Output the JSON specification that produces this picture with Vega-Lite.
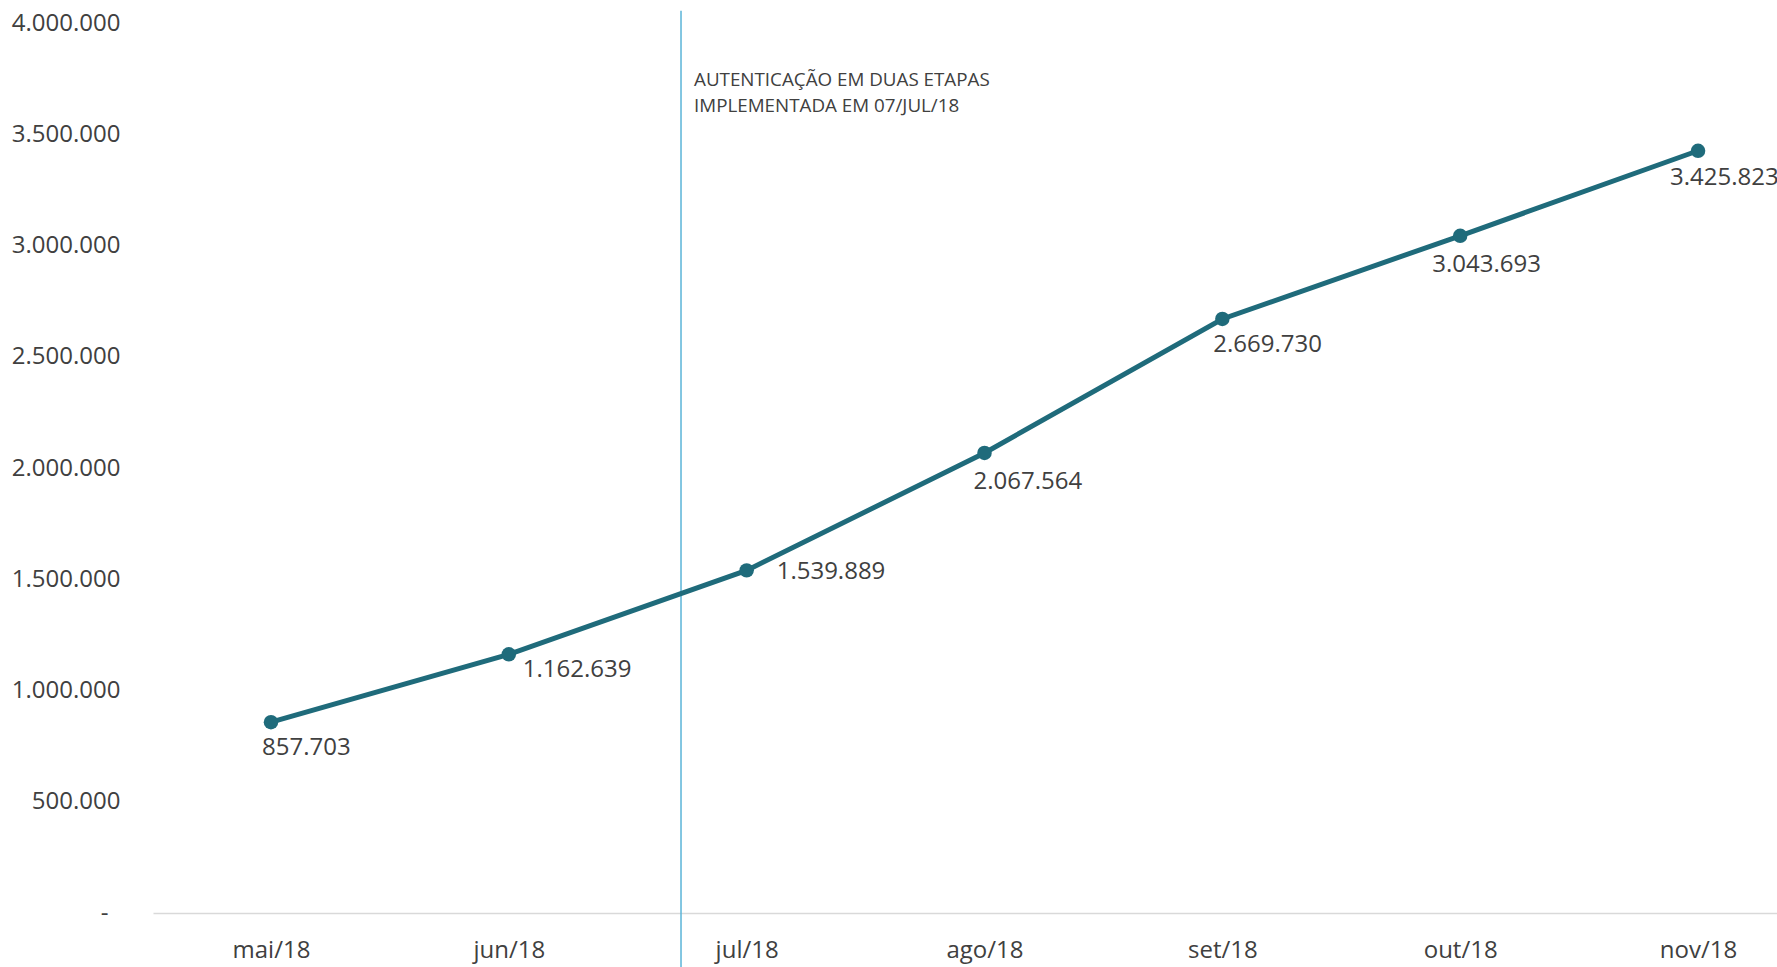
{
  "$schema": "https://vega.github.io/schema/vega-lite/v6.json",
  "autosize": "none",
  "width": 1624,
  "height": 890,
  "padding": {"left": 153, "top": 23, "right": 0, "bottom": 54},
  "background": "white",
  "config": {
    "view": {"stroke": null},
    "font": "Open Sans",
    "locale": {"number": {"decimal": ",", "thousands": ".", "grouping": [3], "currency": ["R$", ""]}}
  },
  "datasets": {
    "serie": [
      {"i": 0, "mes": "mai/18", "valor": 857703},
      {"i": 1, "mes": "jun/18", "valor": 1162639},
      {"i": 2, "mes": "jul/18", "valor": 1539889},
      {"i": 3, "mes": "ago/18", "valor": 2067564},
      {"i": 4, "mes": "set/18", "valor": 2669730},
      {"i": 5, "mes": "out/18", "valor": 3043693},
      {"i": 6, "mes": "nov/18", "valor": 3425823}
    ],
    "marco": [
      {"pos": 1.724, "topo": 4055000, "base": -250000, "ytexto": 3744000, "texto": ["AUTENTICAÇÃO EM DUAS ETAPAS", "IMPLEMENTADA EM 07/JUL/18"]}
    ]
  },
  "layer": [
    {
      "data": {"name": "marco"},
      "mark": {"type": "rule", "color": "#5AB4D8", "strokeWidth": 1.5, "clip": false},
      "encoding": {
        "x": {"field": "pos", "type": "quantitative"},
        "y": {"field": "topo", "type": "quantitative"},
        "y2": {"field": "base"}
      }
    },
    {
      "data": {"name": "marco"},
      "mark": {"type": "text", "align": "left", "baseline": "middle", "dx": 13, "fontSize": 18.8, "lineHeight": 26, "color": "#404040"},
      "encoding": {
        "x": {"field": "pos", "type": "quantitative"},
        "y": {"field": "ytexto", "type": "quantitative"},
        "text": {"field": "texto"}
      }
    },
    {
      "data": {"name": "serie"},
      "mark": {"type": "line", "color": "#1F6B7B", "strokeWidth": 5},
      "encoding": {
        "x": {
          "field": "i", "type": "quantitative",
          "scale": {"domain": [-0.496, 6.332], "nice": false, "zero": false},
          "axis": {
            "title": null, "values": [0, 1, 2, 3, 4, 5, 6],
            "labelExpr": "['mai/18','jun/18','jul/18','ago/18','set/18','out/18','nov/18'][datum.value]",
            "grid": false, "ticks": false, "domainColor": "#D9D9D9", "domainWidth": 1.5,
            "labelFontSize": 24, "labelColor": "#404040", "labelPadding": 25, "labelFont": "Open Sans"
          }
        },
        "y": {
          "field": "valor", "type": "quantitative",
          "scale": {"domain": [0, 4000000], "nice": false},
          "axis": {
            "title": null, "values": [0, 500000, 1000000, 1500000, 2000000, 2500000, 3000000, 3500000, 4000000],
            "labelExpr": "datum.value == 0 ? '-\u2002\u200b' : format(datum.value, ',')",
            "grid": false, "ticks": false, "domain": false,
            "labelFontSize": 24, "labelColor": "#404040", "labelPadding": 33, "labelFont": "Open Sans"
          }
        }
      }
    },
    {
      "data": {"name": "serie"},
      "mark": {"type": "point", "filled": true, "opacity": 1, "color": "#1F6B7B", "size": 210},
      "encoding": {
        "x": {"field": "i", "type": "quantitative"},
        "y": {"field": "valor", "type": "quantitative"}
      }
    },
    {
      "data": {"name": "serie"},
      "transform": [{"filter": "datum.mes == 'mai/18' || datum.mes == 'set/18'"}],
      "mark": {"type": "text", "align": "left", "baseline": "middle", "dx": -9, "dy": 26, "fontSize": 24, "color": "#404040"},
      "encoding": {
        "x": {"field": "i", "type": "quantitative"},
        "y": {"field": "valor", "type": "quantitative"},
        "text": {"field": "valor", "type": "quantitative", "format": ","}
      }
    },
    {
      "data": {"name": "serie"},
      "transform": [{"filter": "datum.mes == 'ago/18'"}],
      "mark": {"type": "text", "align": "left", "baseline": "middle", "dx": -11, "dy": 29, "fontSize": 24, "color": "#404040"},
      "encoding": {
        "x": {"field": "i", "type": "quantitative"},
        "y": {"field": "valor", "type": "quantitative"},
        "text": {"field": "valor", "type": "quantitative", "format": ","}
      }
    },
    {
      "data": {"name": "serie"},
      "transform": [{"filter": "datum.mes == 'out/18'"}],
      "mark": {"type": "text", "align": "left", "baseline": "middle", "dx": -28, "dy": 29, "fontSize": 24, "color": "#404040"},
      "encoding": {
        "x": {"field": "i", "type": "quantitative"},
        "y": {"field": "valor", "type": "quantitative"},
        "text": {"field": "valor", "type": "quantitative", "format": ","}
      }
    },
    {
      "data": {"name": "serie"},
      "transform": [{"filter": "datum.mes == 'nov/18'"}],
      "mark": {"type": "text", "align": "left", "baseline": "middle", "dx": -28, "dy": 27, "fontSize": 24, "color": "#404040"},
      "encoding": {
        "x": {"field": "i", "type": "quantitative"},
        "y": {"field": "valor", "type": "quantitative"},
        "text": {"field": "valor", "type": "quantitative", "format": ","}
      }
    },
    {
      "data": {"name": "serie"},
      "transform": [{"filter": "datum.mes == 'jun/18'"}],
      "mark": {"type": "text", "align": "left", "baseline": "middle", "dx": 14, "dy": 16, "fontSize": 24, "color": "#404040"},
      "encoding": {
        "x": {"field": "i", "type": "quantitative"},
        "y": {"field": "valor", "type": "quantitative"},
        "text": {"field": "valor", "type": "quantitative", "format": ","}
      }
    },
    {
      "data": {"name": "serie"},
      "transform": [{"filter": "datum.mes == 'jul/18'"}],
      "mark": {"type": "text", "align": "left", "baseline": "middle", "dx": 30, "dy": 2, "fontSize": 24, "color": "#404040"},
      "encoding": {
        "x": {"field": "i", "type": "quantitative"},
        "y": {"field": "valor", "type": "quantitative"},
        "text": {"field": "valor", "type": "quantitative", "format": ","}
      }
    }
  ]
}
